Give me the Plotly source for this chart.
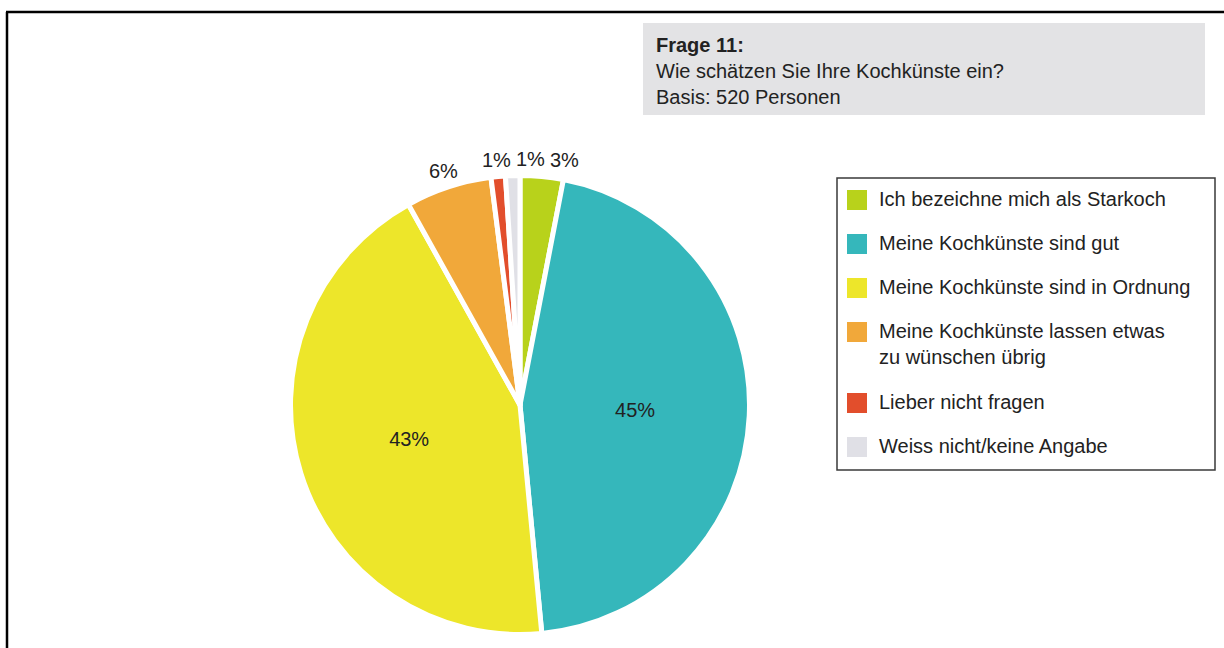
import math
import plotly.graph_objects as go

# ---------------- data ----------------
categories = [
    "Ich bezeichne mich als Starkoch",
    "Meine Kochkünste sind gut",
    "Meine Kochkünste sind in Ordnung",
    "Meine Kochkünste lassen etwas<br>zu wünschen übrig",
    "Lieber nicht fragen",
    "Weiss nicht/keine Angabe",
]
values = [3, 45, 43, 6, 1, 1]
colors = ["#b8d21b", "#35b7bb", "#ede62a", "#f1a83a", "#e24e2c", "#e0e0e6"]
title_lines = ["<b>Frage 11:</b>", "Wie schätzen Sie Ihre Kochkünste ein?", "Basis: 520 Personen"]

# ---------------- layout constants (pixels) ----------------
W, H = 1224, 648
FONT = "Liberation Sans, Arial, sans-serif"
TXT = "#222222"
CX, CY, R = 520, 405, 229.5      # pie centre / radius in px
GAP = 5                           # white separator width
INSIDE_MIN = 10                   # slices >= this % get inside labels


def px(x):
    return x / W


def py(y):
    return 1 - y / H


fig = go.Figure()

textpos = ["inside" if v >= INSIDE_MIN else "none" for v in values]
fig.add_trace(go.Pie(
    labels=categories,
    values=values,
    sort=False,
    direction="clockwise",
    rotation=0,
    marker=dict(colors=colors, line=dict(color="white", width=GAP)),
    texttemplate="%{value}%",
    textposition=textpos,
    insidetextorientation="horizontal",
    textfont=dict(family=FONT, size=20, color=TXT),
    domain=dict(x=[px(CX - R), px(CX + R)], y=[py(CY + R), py(CY - R)]),
    showlegend=False,
    hoverinfo="label+value",
))

annotations = []
shapes = []

# ---------------- outside labels for small slices (computed from values) ----------------
total = sum(values)
cum = 0
outside = []
for v in values:
    mid = (cum + v / 2) / total * 2 * math.pi
    cum += v
    if v >= INSIDE_MIN:
        continue
    rl = R - GAP / 2 + 19
    x = CX + rl * math.sin(mid)
    y = CY - rl * math.cos(mid)
    outside.append([x, y, f"{v}%"])
outside.sort(key=lambda t: t[0])
MIN_SEP = 34
for i in range(1, len(outside)):
    if outside[i][0] < outside[i - 1][0] + MIN_SEP:
        outside[i][0] = outside[i - 1][0] + MIN_SEP
for x, y, t in outside:
    annotations.append(dict(x=px(x), y=py(y), xref="paper", yref="paper", text=t,
                            showarrow=False, xanchor="center", yanchor="middle",
                            font=dict(family=FONT, size=20, color=TXT)))

# ---------------- question box ----------------
shapes.append(dict(type="rect", xref="paper", yref="paper",
                   x0=px(643), x1=px(1205), y0=py(115), y1=py(23),
                   fillcolor="#e3e3e5", line=dict(width=0), layer="below"))
annotations.append(dict(x=px(654), y=py(32), xref="paper", yref="paper",
                        text="<br>".join(title_lines), showarrow=False,
                        xanchor="left", yanchor="top", align="left",
                        font=dict(family=FONT, size=20, color=TXT)))

# ---------------- legend (built from categories / colors) ----------------
shapes.append(dict(type="rect", xref="paper", yref="paper",
                   x0=px(837), x1=px(1215), y0=py(470), y1=py(178),
                   fillcolor="rgba(0,0,0,0)", line=dict(color="#3a3a3a", width=1.5)))
yc = 200
PITCH, LINE_H = 44, 27
for lab, col in zip(categories, colors):
    shapes.append(dict(type="rect", xref="paper", yref="paper",
                       x0=px(847), x1=px(867), y0=py(yc + 10), y1=py(yc - 10),
                       fillcolor=col, line=dict(width=0)))
    annotations.append(dict(x=px(877), y=py(yc - 14), xref="paper", yref="paper",
                            text=lab, showarrow=False, xanchor="left", yanchor="top",
                            align="left", font=dict(family=FONT, size=20, color=TXT)))
    nlines = lab.count("<br>") + 1
    yc += PITCH + (nlines - 1) * LINE_H

# ---------------- outer frame (top + left edges) ----------------
shapes.append(dict(type="line", xref="paper", yref="paper",
                   x0=px(6), x1=1, y0=py(12), y1=py(12), line=dict(color="black", width=2.5)))
shapes.append(dict(type="line", xref="paper", yref="paper",
                   x0=px(7), x1=px(7), y0=py(12), y1=0, line=dict(color="black", width=2.5)))

fig.update_layout(
    width=W, height=H,
    margin=dict(l=0, r=0, t=0, b=0),
    paper_bgcolor="white",
    plot_bgcolor="white",
    showlegend=False,
    shapes=shapes,
    annotations=annotations,
    font=dict(family=FONT, color=TXT),
)

fig.write_html(
    "out.html",
    config={"displayModeBar": False},
    post_script="document.body.style.margin='0';document.body.style.overflow='hidden';",
)
